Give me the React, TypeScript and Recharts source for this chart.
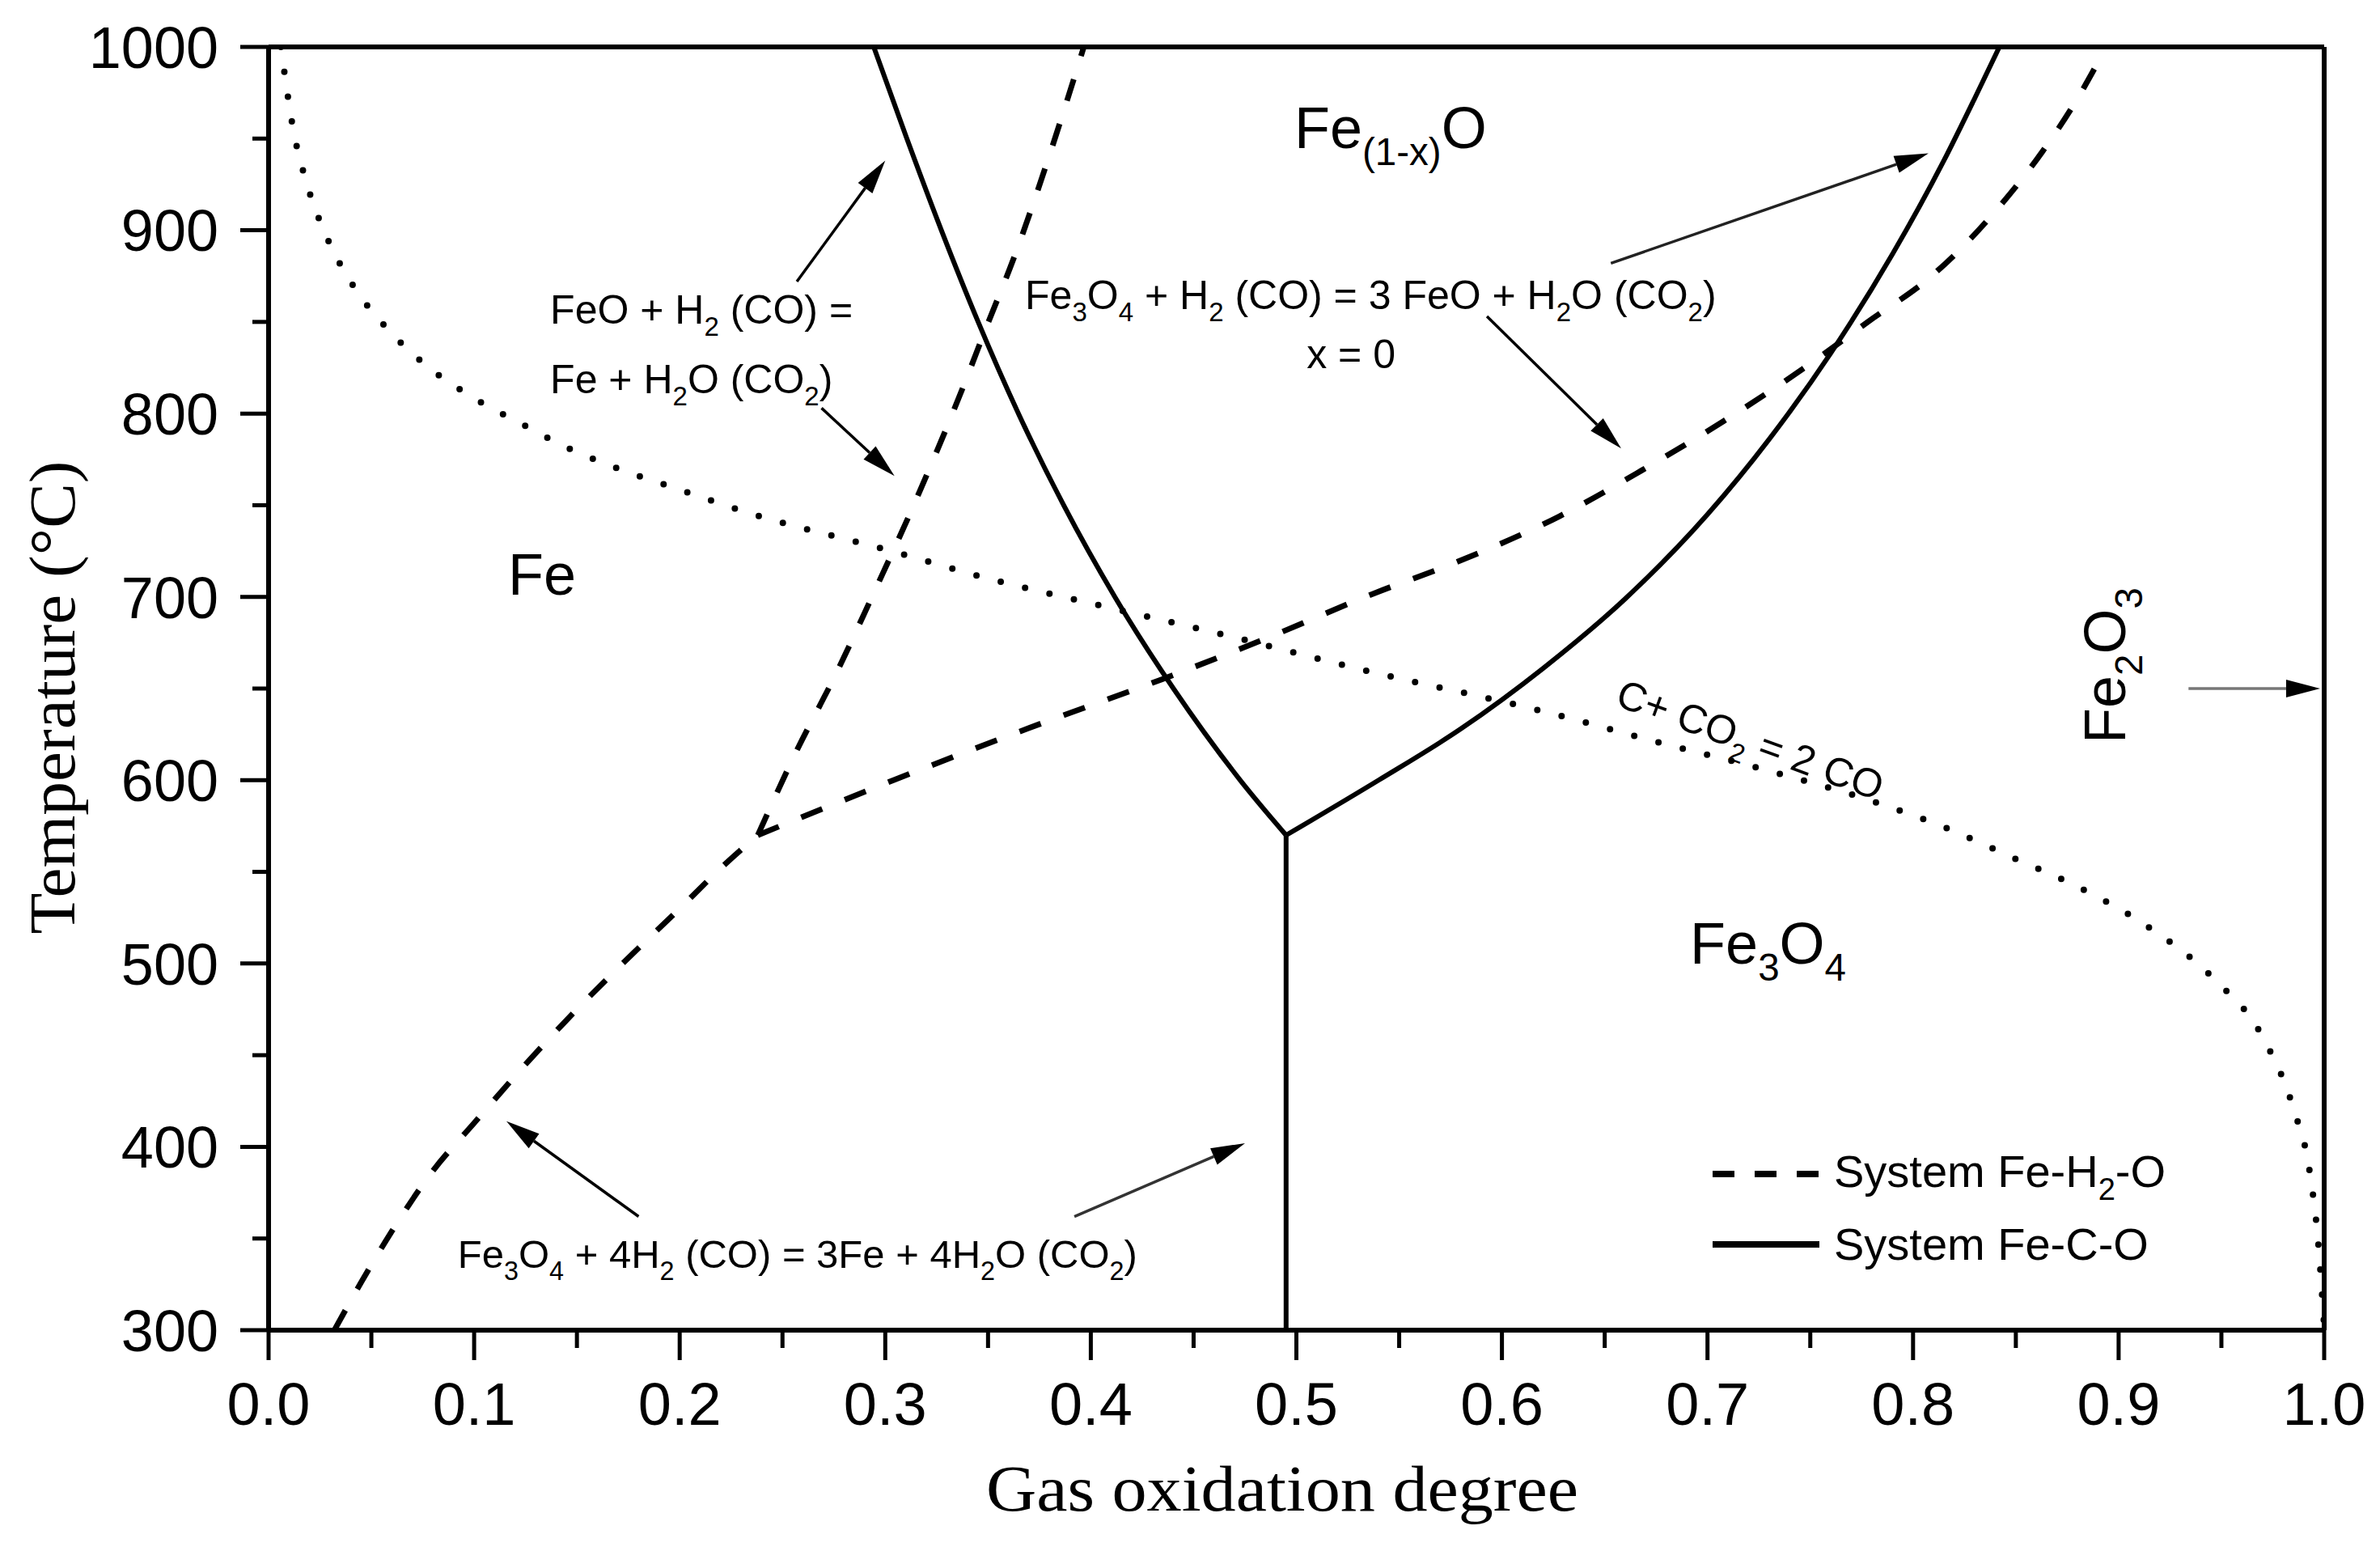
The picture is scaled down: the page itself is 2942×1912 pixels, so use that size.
import React from 'react';
import { ComposedChart, Line, XAxis, YAxis, ReferenceLine, ReferenceDot, Legend } from 'recharts';

const SANS = "'Liberation Sans', Arial, Helvetica, sans-serif";
const SERIF = "'Liberation Serif', 'Times New Roman', serif";

const xTicks = [0, 0.05, 0.1, 0.15, 0.2, 0.25, 0.3, 0.35, 0.4, 0.45, 0.5, 0.55, 0.6, 0.65, 0.7, 0.75, 0.8, 0.85, 0.9, 0.95, 1.0];
const yTicks = [300, 350, 400, 450, 500, 550, 600, 650, 700, 750, 800, 850, 900, 950, 1000];

// C + CO2 = 2 CO (dotted)
const boudouard = [
  { x: 0.006, y: 1000 }, { x: 0.012, y: 955 }, { x: 0.019, y: 924 }, { x: 0.028, y: 897 },
  { x: 0.041, y: 870 }, { x: 0.058, y: 846 }, { x: 0.077, y: 826 }, { x: 0.099, y: 809 },
  { x: 0.122, y: 795 }, { x: 0.146, y: 781 }, { x: 0.17, y: 770 }, { x: 0.196, y: 760 },
  { x: 0.233, y: 746 }, { x: 0.303, y: 725 }, { x: 0.35, y: 710 }, { x: 0.402, y: 696 },
  { x: 0.466, y: 679 }, { x: 0.533, y: 660 }, { x: 0.622, y: 637 }, { x: 0.675, y: 621 },
  { x: 0.727, y: 606 }, { x: 0.779, y: 589 }, { x: 0.816, y: 574 }, { x: 0.852, y: 556 },
  { x: 0.878, y: 543 }, { x: 0.913, y: 521 }, { x: 0.946, y: 492 }, { x: 0.97, y: 460 },
  { x: 0.985, y: 421 }, { x: 0.993, y: 386 }, { x: 0.997, y: 349 }, { x: 1.0, y: 302 },
];

// System Fe-C-O (solid)
const coFeFeO = [
  { x: 0.2944, y: 1000 }, { x: 0.3105, y: 950 }, { x: 0.3273, y: 900 }, { x: 0.3452, y: 850 },
  { x: 0.3648, y: 800 }, { x: 0.3868, y: 750 }, { x: 0.4117, y: 700 }, { x: 0.4402, y: 650 },
  { x: 0.4727, y: 600 }, { x: 0.495, y: 570 },
];
const coFeOFe3O4 = [
  { x: 0.495, y: 570 }, { x: 0.54, y: 600 }, { x: 0.58, y: 628 }, { x: 0.62, y: 661 },
  { x: 0.66, y: 699 }, { x: 0.7, y: 745 }, { x: 0.73, y: 786 }, { x: 0.76, y: 833 },
  { x: 0.79, y: 887 }, { x: 0.815, y: 938 }, { x: 0.83, y: 972 }, { x: 0.842, y: 1000 },
];
const coFeFe3O4 = [{ x: 0.495, y: 300 }, { x: 0.495, y: 570 }];

// System Fe-H2-O (dashed)
const h2FeFe3O4 = [
  { x: 0.032, y: 300 }, { x: 0.045, y: 326 }, { x: 0.06, y: 354 }, { x: 0.08, y: 387 },
  { x: 0.1, y: 413 }, { x: 0.125, y: 445 }, { x: 0.15, y: 475 }, { x: 0.175, y: 503 },
  { x: 0.2, y: 530 }, { x: 0.22, y: 552 }, { x: 0.238, y: 570 },
];
const h2FeFeO = [
  { x: 0.238, y: 570 }, { x: 0.256, y: 614 }, { x: 0.276, y: 658 }, { x: 0.296, y: 706 },
  { x: 0.315, y: 753 }, { x: 0.3377, y: 814 }, { x: 0.3495, y: 848 }, { x: 0.3626, y: 885 },
  { x: 0.3796, y: 940 }, { x: 0.3966, y: 1000 },
];
const h2FeOFe3O4 = [
  { x: 0.238, y: 570 }, { x: 0.304, y: 600 }, { x: 0.376, y: 631 }, { x: 0.4345, y: 655 },
  { x: 0.4845, y: 677 }, { x: 0.538, y: 702 }, { x: 0.578, y: 719 }, { x: 0.628, y: 744 },
  { x: 0.668, y: 769 }, { x: 0.708, y: 796 }, { x: 0.7485, y: 826 }, { x: 0.778, y: 850 },
  { x: 0.809, y: 875 }, { x: 0.839, y: 909 }, { x: 0.863, y: 943 }, { x: 0.879, y: 970 },
  { x: 0.894, y: 1000 },
];

const notes = [
  { x: 0.1165, y: 701, text: 'Fe', size: 72 },
  { x: 0.499, y: 945, text: 'Fe_{(1-x)}O', size: 72 },
  { x: 0.6915, y: 500, text: 'Fe_3O_4', size: 72 },
  { x: 0.903, y: 620, text: 'Fe_2O_3', size: 72, rotate: -90 },
  { x: 0.6545, y: 641, text: 'C+ CO_2 = 2 CO', size: 50, rotate: 20 },
  { x: 0.137, y: 849, text: 'FeO + H_2 (CO) =', size: 50 },
  { x: 0.137, y: 811, text: 'Fe + H_2O (CO_2)', size: 50 },
  { x: 0.368, y: 857, text: 'Fe_3O_4 + H_2 (CO) = 3 FeO + H_2O (CO_2)', size: 50 },
  { x: 0.5266, y: 825, text: 'x = 0', size: 50, anchor: 'middle' },
  { x: 0.092, y: 334, text: 'Fe_3O_4 + 4H_2 (CO) = 3Fe + 4H_2O (CO_2)', size: 49 },
];

const arrows = [
  { from: { x: 0.257, y: 872 }, to: { x: 0.3, y: 938 }, color: '#000' },
  { from: { x: 0.269, y: 803 }, to: { x: 0.3045, y: 766 }, color: '#000' },
  { from: { x: 0.653, y: 882 }, to: { x: 0.8075, y: 942 }, color: '#222' },
  { from: { x: 0.5927, y: 853 }, to: { x: 0.658, y: 781 }, color: '#000' },
  { from: { x: 0.18, y: 362 }, to: { x: 0.1157, y: 414 }, color: '#000' },
  { from: { x: 0.392, y: 362 }, to: { x: 0.475, y: 402 }, color: '#333' },
  { from: { x: 0.934, y: 650 }, to: { x: 0.998, y: 650 }, color: '#777' },
];

const legendItems = [
  { label: 'System Fe-H_2-O', dash: '27 25' },
  { label: 'System Fe-C-O', dash: undefined },
];

function chemSpans(text: string, size: number) {
  const re = /_\{([^}]*)\}|_(.)|([^_]+)/g;
  const out: any[] = [];
  const shift = size * 0.3;
  let low = false;
  let i = 0;
  let m: RegExpExecArray | null;
  while ((m = re.exec(text))) {
    const sub = m[1] ?? m[2];
    if (sub !== undefined) {
      out.push(<tspan key={i++} dy={low ? 0 : shift} fontSize={size * 0.66}>{sub}</tspan>);
      low = true;
    } else {
      out.push(<tspan key={i++} dy={low ? -shift : 0} fontSize={size}>{m[3]}</tspan>);
      low = false;
    }
  }
  return out;
}

const XTick = (props: any) => {
  const { x, y, payload } = props;
  const v = payload.value as number;
  const major = Math.round(v * 100) % 10 === 0;
  return (
    <g>
      <line x1={x} y1={y} x2={x} y2={y + (major ? 37 : 22)} stroke="#000" strokeWidth={5} />
      {major && (
        <text x={x} y={y + 117} textAnchor="middle" fontFamily={SANS} fontSize={74} fill="#000">
          {v.toFixed(1)}
        </text>
      )}
    </g>
  );
};

const YTick = (props: any) => {
  const { x, y, payload } = props;
  const v = payload.value as number;
  const major = v % 100 === 0;
  return (
    <g>
      <line x1={x} y1={y} x2={x - (major ? 35 : 20)} y2={y} stroke="#000" strokeWidth={5} />
      {major && (
        <text x={x - 62} y={y} dy="0.36em" textAnchor="end" fontFamily={SANS} fontSize={72} fill="#000">
          {v}
        </text>
      )}
    </g>
  );
};

const ArrowShape = (props: any) => {
  const { x1, y1, x2, y2, stroke } = props;
  const a = Math.atan2(y2 - y1, x2 - x1);
  const L = 42;
  const W = 11;
  const bx = x2 - L * Math.cos(a);
  const by = y2 - L * Math.sin(a);
  const pts = [
    `${x2},${y2}`,
    `${bx + W * Math.sin(a)},${by - W * Math.cos(a)}`,
    `${bx - W * Math.sin(a)},${by + W * Math.cos(a)}`,
  ].join(' ');
  return (
    <g>
      <line x1={x1} y1={y1} x2={bx} y2={by} stroke={stroke} strokeWidth={3.5} />
      <polygon points={pts} fill="#000" />
    </g>
  );
};

const noteShape = (n: any) => (p: any) => {
  const { cx, cy } = p;
  return (
    <text
      x={cx}
      y={cy}
      fontFamily={SANS}
      fontSize={n.size}
      fill="#000"
      textAnchor={n.anchor || 'start'}
      style={{ whiteSpace: 'pre' }}
      transform={n.rotate ? `rotate(${n.rotate}, ${cx}, ${cy})` : undefined}
    >
      {chemSpans(n.text, n.size)}
    </text>
  );
};

const renderLegend = () => (
  <div style={{ fontFamily: SANS, fontSize: 56, color: '#000' }}>
    {legendItems.map((item) => (
      <div key={item.label} style={{ display: 'flex', alignItems: 'center', height: 87, lineHeight: '87px' }}>
        <svg width={132} height={20}>
          <line x1={0} y1={10} x2={132} y2={10} stroke="#000" strokeWidth={8} strokeDasharray={item.dash} />
        </svg>
        <span style={{ marginLeft: 18, whiteSpace: 'pre' }}>
          {item.label.split('_').map((part, i) =>
            i === 0 ? (
              <span key={i}>{part}</span>
            ) : (
              <span key={i}>
                <span style={{ fontSize: 38, position: 'relative', top: 16 }}>{part[0]}</span>
                {part.slice(1)}
              </span>
            )
          )}
        </span>
      </div>
    ))}
  </div>
);

export default function App() {
  return (
    <div style={{ position: 'absolute', left: 0, top: 0, width: 2942, height: 1912, background: '#fff' }}>
      <ComposedChart width={2942} height={1912} margin={{ top: 58, right: 69, bottom: 0, left: 0 }}>
        <XAxis
          dataKey="x"
          type="number"
          domain={[0, 1]}
          ticks={xTicks}
          interval={0}
          height={268}
          tickSize={0}
          tickMargin={0}
          tickLine={false}
          tick={<XTick />}
          axisLine={{ stroke: '#000', strokeWidth: 6 }}
          allowDataOverflow
          label={() => (
            <text x={1585} y={1867} textAnchor="middle" fontFamily={SERIF} fontSize={80} fill="#000" textLength={732} lengthAdjust="spacingAndGlyphs">
              Gas oxidation degree
            </text>
          )}
        />
        <YAxis
          dataKey="y"
          type="number"
          domain={[300, 1000]}
          ticks={yTicks}
          interval={0}
          width={332}
          tickSize={0}
          tickMargin={0}
          tickLine={false}
          tick={<YTick />}
          axisLine={{ stroke: '#000', strokeWidth: 6 }}
          allowDataOverflow
          label={() => (
            <text x={92} y={862} transform="rotate(-90, 92, 862)" textAnchor="middle" fontFamily={SERIF} fontSize={80} fill="#000" textLength={585} lengthAdjust="spacingAndGlyphs">
              Temperature (°C)
            </text>
          )}
        />
        <ReferenceLine y={1000} stroke="#000" strokeWidth={6} />
        <ReferenceLine x={1} stroke="#000" strokeWidth={6} />

        <Line data={boudouard} dataKey="y" name="C + CO2 = 2 CO" type="monotone" stroke="#000" strokeWidth={8} strokeDasharray="0 31" strokeLinecap="round" dot={false} activeDot={false} isAnimationActive={false} legendType="none" />
        <Line data={coFeFeO} dataKey="y" name="Fe-C-O Fe/FeO" type="monotone" stroke="#000" strokeWidth={6} dot={false} activeDot={false} isAnimationActive={false} legendType="none" />
        <Line data={coFeOFe3O4} dataKey="y" name="Fe-C-O FeO/Fe3O4" type="monotone" stroke="#000" strokeWidth={6} dot={false} activeDot={false} isAnimationActive={false} legendType="none" />
        <Line data={coFeFe3O4} dataKey="y" name="Fe-C-O Fe/Fe3O4" type="linear" stroke="#000" strokeWidth={6} dot={false} activeDot={false} isAnimationActive={false} legendType="none" />
        <Line data={h2FeFe3O4} dataKey="y" name="Fe-H2-O Fe/Fe3O4" type="monotone" stroke="#000" strokeWidth={7} strokeDasharray="28 30" dot={false} activeDot={false} isAnimationActive={false} legendType="none" />
        <Line data={h2FeFeO} dataKey="y" name="Fe-H2-O Fe/FeO" type="monotone" stroke="#000" strokeWidth={7} strokeDasharray="28 30" dot={false} activeDot={false} isAnimationActive={false} legendType="none" />
        <Line data={h2FeOFe3O4} dataKey="y" name="Fe-H2-O FeO/Fe3O4" type="monotone" stroke="#000" strokeWidth={7} strokeDasharray="28 30" dot={false} activeDot={false} isAnimationActive={false} legendType="none" />

        {arrows.map((a, i) => (
          <ReferenceLine key={`arrow-${i}`} segment={[a.from, a.to]} stroke={a.color} shape={ArrowShape} />
        ))}
        {notes.map((n, i) => (
          <ReferenceDot key={`note-${i}`} x={n.x} y={n.y} r={1} shape={noteShape(n)} />
        ))}

        <Legend
          layout="horizontal"
          verticalAlign="middle"
          align="center"
          content={renderLegend}
          wrapperStyle={{ position: 'absolute', left: 2117, top: 1407, width: 760, height: 180 }}
        />
      </ComposedChart>
    </div>
  );
}
